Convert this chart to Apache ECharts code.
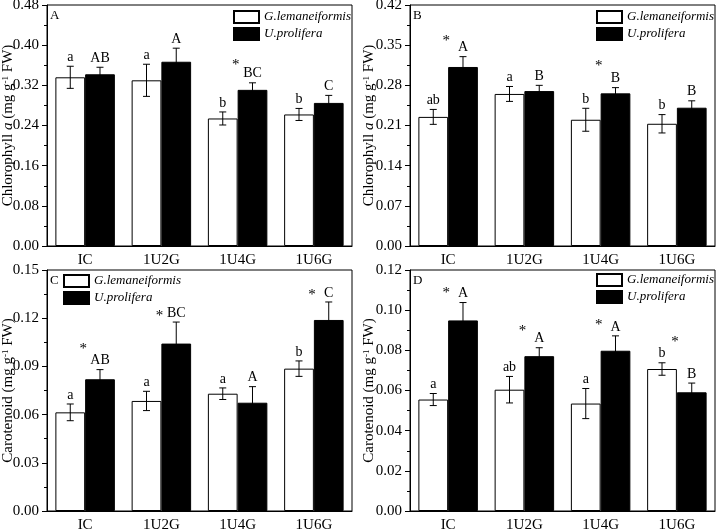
<!DOCTYPE html>
<html>
<head>
<meta charset="utf-8">
<script src="https://cdn.jsdelivr.net/npm/echarts@6/dist/echarts.min.js"></script>
<style>
  html, body { margin: 0; padding: 0; background: #fff; }
  #chart { width: 718px; height: 530px; }
</style>
</head>
<body>
<div id="chart"></div>
<script>
const categories = ["IC", "1U2G", "1U4G", "1U6G"];
const seriesNames = ["G.lemaneiformis", "U.prolifera"];

// Panel A - chlorophyll a
const chlA_G = [0.336, 0.330, 0.254, 0.262];
const chlA_G_err = [0.022, 0.032, 0.013, 0.012];
const chlA_U = [0.342, 0.367, 0.311, 0.285];
const chlA_U_err = [0.014, 0.027, 0.014, 0.015];
const chlA_G_letters = ["a", "a", "b", "b"];
const chlA_U_letters = ["AB", "A", "BC", "C"];
const chlA_stars = [null, null, 0.361, null];

// Panel B - chlorophyll a
const chlB_G = [0.225, 0.265, 0.220, 0.213];
const chlB_G_err = [0.013, 0.013, 0.020, 0.016];
const chlB_U = [0.312, 0.270, 0.266, 0.241];
const chlB_U_err = [0.018, 0.010, 0.010, 0.012];
const chlB_G_letters = ["ab", "a", "b", "b"];
const chlB_U_letters = ["A", "B", "B", "B"];
const chlB_stars = [0.358, null, 0.313, null];

// Panel C - carotenoid
const carC_G = [0.0614, 0.0685, 0.0730, 0.0886];
const carC_G_err = [0.0052, 0.0060, 0.0036, 0.0048];
const carC_U = [0.0820, 0.1042, 0.0674, 0.1189];
const carC_U_err = [0.0060, 0.0134, 0.0100, 0.0112];
const carC_G_letters = ["a", "a", "a", "b"];
const carC_U_letters = ["AB", "BC", "A", "C"];
const carC_stars = [0.1006, 0.1215, null, 0.1344];

// Panel D - carotenoid
const carD_G = [0.0555, 0.0604, 0.0535, 0.0707];
const carD_G_err = [0.0030, 0.0066, 0.0075, 0.0031];
const carD_U = [0.0949, 0.0771, 0.0798, 0.0591];
const carD_U_err = [0.0089, 0.0042, 0.0074, 0.0046];
const carD_G_letters = ["a", "ab", "a", "b"];
const carD_U_letters = ["A", "A", "A", "B"];
const carD_stars = [0.1085, 0.0897, 0.0927, 0.0839];

const FONT = '"Liberation Serif", "Times New Roman", serif';
const GAP = 0.22;

const panels = [
  { tag: "A", g: chlA_G, ge: chlA_G_err, u: chlA_U, ue: chlA_U_err, gl: chlA_G_letters, ul: chlA_U_letters, stars: chlA_stars,
    max: 0.48, interval: 0.08, kind: "chl", nameGap: 31,
    grid: { left: 47, top: 5, width: 305, height: 241 }, legend: { left: 233, top: 10 } },
  { tag: "B", g: chlB_G, ge: chlB_G_err, u: chlB_U, ue: chlB_U_err, gl: chlB_G_letters, ul: chlB_U_letters, stars: chlB_stars,
    max: 0.42, interval: 0.07, kind: "chl", nameGap: 33,
    grid: { left: 410, top: 5, width: 305, height: 241 }, legend: { left: 596, top: 10 } },
  { tag: "C", g: carC_G, ge: carC_G_err, u: carC_U, ue: carC_U_err, gl: carC_G_letters, ul: carC_U_letters, stars: carC_stars,
    max: 0.15, interval: 0.03, kind: "car", nameGap: 31,
    grid: { left: 47, top: 270, width: 305, height: 241 }, legend: { left: 63, top: 274 } },
  { tag: "D", g: carD_G, ge: carD_G_err, u: carD_U, ue: carD_U_err, gl: carD_G_letters, ul: carD_U_letters, stars: carD_stars,
    max: 0.12, interval: 0.02, kind: "car", nameGap: 33,
    grid: { left: 410, top: 270, width: 305, height: 241 }, legend: { left: 596, top: 273 } },
];

const chart = echarts.init(document.getElementById("chart"));

// error bar + significance letter, drawn over one bar of the pair
function errorRender(side) {
  return function (params, api) {
    const idx = api.value(0);
    const v = api.value(1);
    const e = api.value(2);
    const letter = api.value(3);
    const band = api.size([1, 0])[0];
    const barW = band * (1 - GAP) / 2;
    const cx = api.coord([idx, v])[0] + side * barW / 2;
    const yTop = api.coord([idx, v + e])[1];
    const yBot = api.coord([idx, v - e])[1];
    const cap = 3.5;
    const ls = { stroke: "#000", lineWidth: 1 };
    return {
      type: "group",
      children: [
        { type: "line", shape: { x1: cx, y1: yBot, x2: cx, y2: yTop }, style: ls },
        { type: "line", shape: { x1: cx - cap, y1: yTop, x2: cx + cap, y2: yTop }, style: ls },
        { type: "line", shape: { x1: cx - cap, y1: yBot, x2: cx + cap, y2: yBot }, style: ls },
        { type: "text", style: { text: letter, x: cx, y: yTop - 2, align: "center", verticalAlign: "bottom",
          fontSize: 14, fontFamily: FONT, fill: "#000" } },
      ],
    };
  };
}

function starRender(params, api) {
  const p = api.coord([api.value(0), api.value(1)]);
  return {
    type: "text",
    style: { text: "*", x: p[0] - 2, y: p[1], align: "center", verticalAlign: "middle",
      fontSize: 15, fontFamily: FONT, fill: "#000" },
  };
}

const grids = [], xAxes = [], yAxes = [], series = [], legends = [], graphics = [];

panels.forEach((p, i) => {
  grids.push(Object.assign({ show: true, borderColor: "#000", borderWidth: 1, backgroundColor: "transparent",
    containLabel: false, outerBoundsMode: "none" }, p.grid));

  xAxes.push({
    type: "category", gridIndex: i, data: categories,
    axisLine: { lineStyle: { color: "#000", width: 1 } },
    axisTick: { alignWithLabel: true, length: 5, lineStyle: { color: "#000" } },
    axisLabel: { color: "#000", fontFamily: FONT, fontSize: 15, margin: 7 },
  });

  const nameRich = {
    n: { fontFamily: FONT, fontSize: 15, color: "#000", lineHeight: 15 },
    i: { fontFamily: FONT, fontSize: 15, fontStyle: "italic", color: "#000", lineHeight: 15 },
    s: { fontFamily: FONT, fontSize: 9, color: "#000", lineHeight: 15, verticalAlign: "top", padding: [0, 0, 6, 0] },
  };
  const name = p.kind === "chl"
    ? "{n|Chlorophyll }{i|a}{n| (mg g}{s|-1}{n| FW)}"
    : "{n|Carotenoid (mg g}{s|-1}{n| FW)}";

  yAxes.push({
    type: "value", gridIndex: i, min: 0, max: p.max, interval: p.interval,
    name: name, nameLocation: "middle", nameGap: p.nameGap, nameMoveOverlap: false,
    nameTextStyle: { rich: nameRich },
    axisLine: { show: true, lineStyle: { color: "#000", width: 1 } },
    axisTick: { show: true, length: 5, lineStyle: { color: "#000" } },
    minorTick: { show: true, splitNumber: 2, length: 3, lineStyle: { color: "#000" } },
    splitLine: { show: false },
    axisLabel: { color: "#000", fontFamily: FONT, fontSize: 15, margin: 8,
      formatter: (v) => v.toFixed(2) },
  });

  series.push({
    name: seriesNames[0], type: "bar", xAxisIndex: i, yAxisIndex: i, data: p.g,
    barGap: "0%", barCategoryGap: (GAP * 100) + "%",
    itemStyle: { color: "#fff", borderColor: "#000", borderWidth: 1 },
    silent: true,
  });
  series.push({
    name: seriesNames[1], type: "bar", xAxisIndex: i, yAxisIndex: i, data: p.u,
    barGap: "0%", barCategoryGap: (GAP * 100) + "%",
    itemStyle: { color: "#000", borderColor: "#000", borderWidth: 1 },
    silent: true,
  });
  series.push({
    type: "custom", xAxisIndex: i, yAxisIndex: i, z: 5, silent: true,
    renderItem: errorRender(-1),
    data: p.g.map((v, k) => [k, v, p.ge[k], p.gl[k]]),
  });
  series.push({
    type: "custom", xAxisIndex: i, yAxisIndex: i, z: 5, silent: true,
    renderItem: errorRender(1),
    data: p.u.map((v, k) => [k, v, p.ue[k], p.ul[k]]),
  });
  series.push({
    type: "custom", xAxisIndex: i, yAxisIndex: i, z: 5, silent: true,
    renderItem: starRender,
    data: p.stars.map((s, k) => (s == null ? null : [k, s])).filter((d) => d),
  });

  legends.push({
    orient: "vertical", left: p.legend.left, top: p.legend.top,
    icon: "rect",
    itemWidth: 25, itemHeight: 12, itemGap: 3, padding: 0,
    selectedMode: false,
    data: seriesNames,
    textStyle: { fontFamily: FONT, fontSize: 13, fontStyle: "italic", color: "#000" },
  });

  graphics.push({
    type: "text", x: p.grid.left + 3, y: p.grid.top + 4, z: 10,
    style: { text: p.tag, fontFamily: FONT, fontSize: 13, fill: "#000" },
  });
});

chart.setOption({
  backgroundColor: "#fff",
  animation: false,
  grid: grids,
  xAxis: xAxes,
  yAxis: yAxes,
  legend: legends,
  graphic: { elements: graphics },
  series: series,
});
</script>
</body>
</html>
